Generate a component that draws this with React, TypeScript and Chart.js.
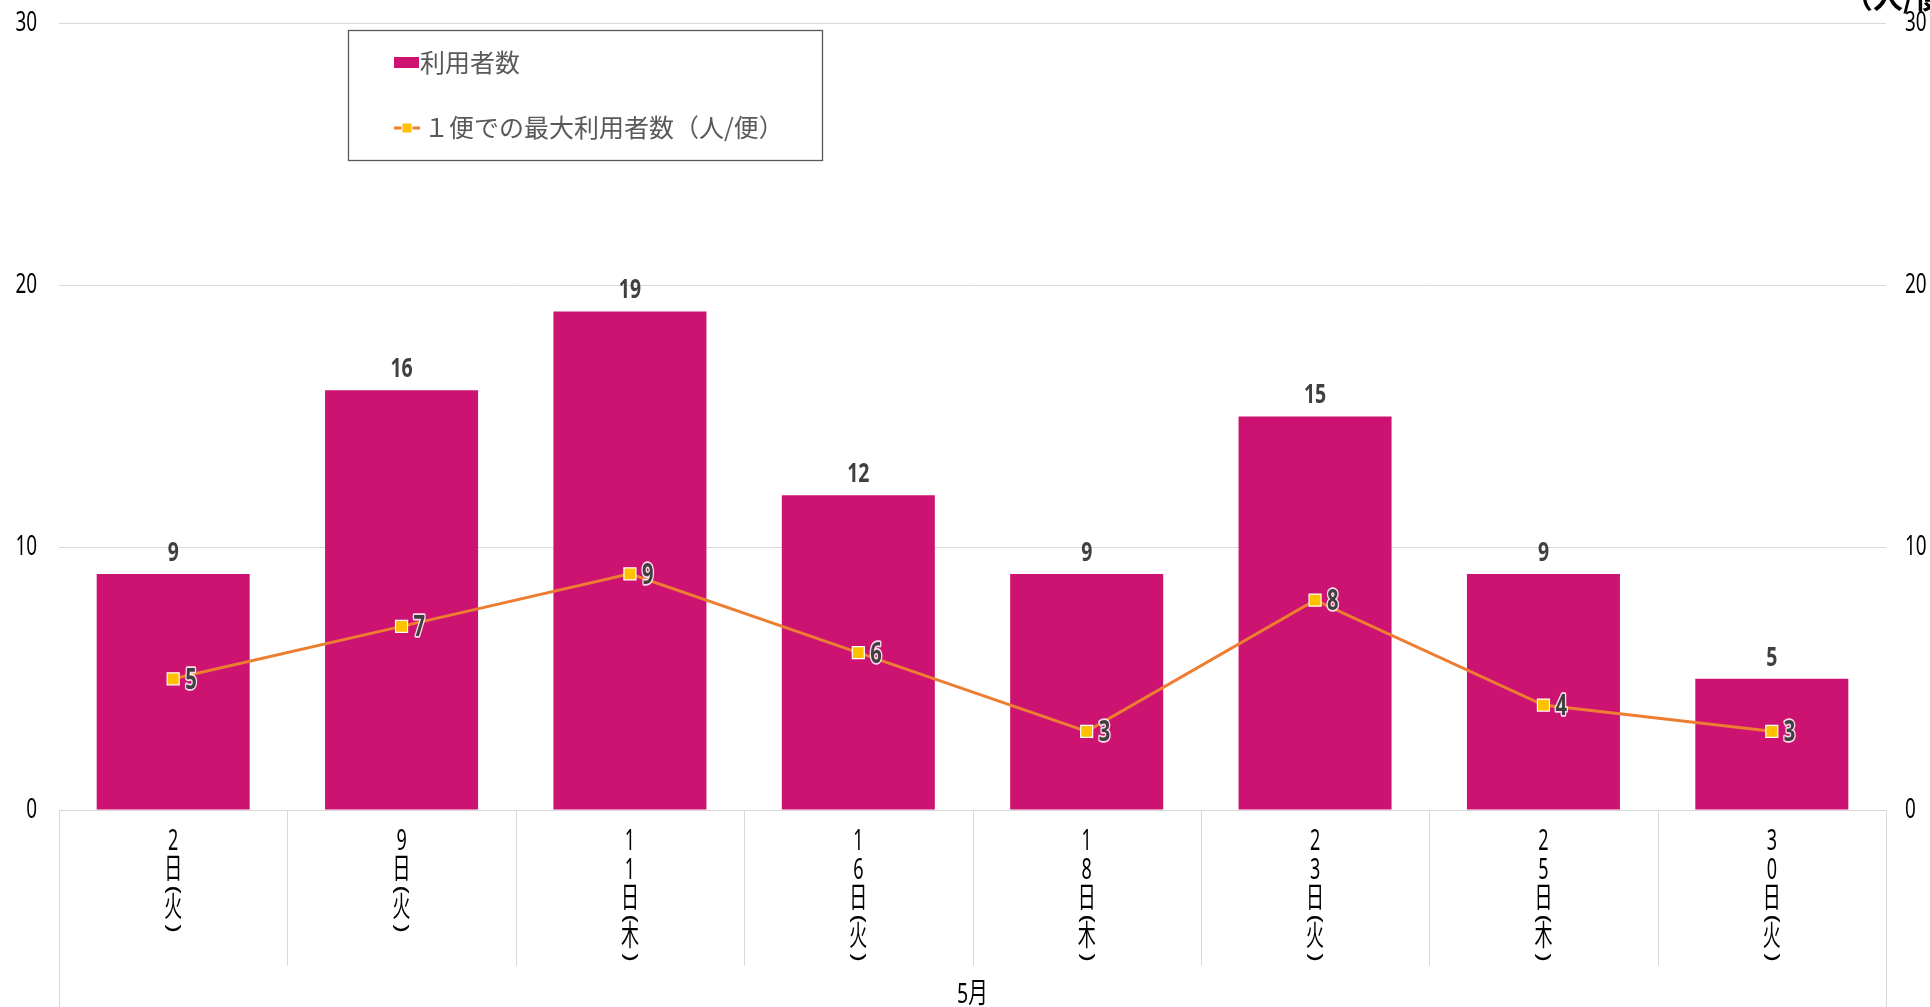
import React, { useEffect, useRef } from 'react';
import { Chart, registerables } from 'chart.js';
Chart.register(...registerables);

const dayLabels = ['2日(火)', '9日(火)', '11日(木)', '16日(火)', '18日(木)', '23日(火)', '25日(木)', '30日(火)'];
const groupLabel = '5月';
const users = [9, 16, 19, 12, 9, 15, 9, 5];
const maxPerTrip = [5, 7, 9, 6, 3, 8, 4, 3];
const seriesNames = ['利用者数', '１便での最大利用者数（人/便）'];
const yTicks = [0, 10, 20, 30];
const rightAxisTitle = '（人/便）';

const FONT = '"Noto Sans", "Noto Sans CJK JP", sans-serif';
const CJK = '"Noto Sans CJK JP", sans-serif';
const BAR_COLOR = '#CC1372';
const LINE_COLOR = '#ED7D31';
const MARKER_COLOR = '#FFC000';
const GRID = '#D9D9D9';

function txt(ctx: CanvasRenderingContext2D, s: string, x: number, y: number, align: CanvasTextAlign, sx: number) {
  ctx.save();
  ctx.translate(x, y);
  ctx.scale(sx, 1);
  ctx.textAlign = align;
  ctx.textBaseline = 'middle';
  ctx.fillText(s, 0, 0);
  ctx.restore();
}

const extrasPlugin = {
  id: 'extras',
  afterDraw(chart: any) {
    const ctx: CanvasRenderingContext2D = chart.ctx;
    const area = chart.chartArea;
    const x = chart.scales.x;
    const y = chart.scales.y;
    const n = chart.data.labels.length;
    ctx.save();

    // category separators
    ctx.strokeStyle = GRID;
    ctx.lineWidth = 1;
    for (let i = 0; i <= n; i++) {
      const px = Math.round(x.left + ((x.right - x.left) * i) / n) + 0.5;
      const bottom = i === 0 || i === n ? chart.height : 966;
      ctx.beginPath();
      ctx.moveTo(px, area.bottom);
      ctx.lineTo(px, bottom);
      ctx.stroke();
    }

    // y tick labels (left and right)
    ctx.fillStyle = '#000';
    ctx.font = `27px ${FONT}`;
    yTicks.forEach((v) => {
      const py = y.getPixelForValue(v);
      txt(ctx, String(v), 37, py, 'right', 0.7);
      txt(ctx, String(v), 1905, py, 'left', 0.7);
    });

    // vertical category labels
    ctx.font = `29px ${FONT}`;
    ctx.fillStyle = '#000';
    (chart.data.labels as string[]).forEach((label, i) => {
      const cx = x.getPixelForValue(i);
      let yy = 827.5;
      Array.from(label).forEach((c) => {
        const isParen = c === '(' || c === ')';
        const h = isParen ? 9 : 29;
        const cy = yy + h / 2;
        if (isParen) {
          ctx.save();
          ctx.translate(cx, cy);
          ctx.scale(0.62, 1);
          ctx.rotate(Math.PI / 2);
          ctx.textAlign = 'center';
          ctx.textBaseline = 'middle';
          ctx.fillText(c, 0, 0);
          ctx.restore();
        } else {
          txt(ctx, c, cx, cy, 'center', 0.62);
        }
        yy += h;
      });
    });

    // group label
    ctx.font = `28px ${FONT}`;
    txt(ctx, groupLabel, (x.left + x.right) / 2, 995, 'center', 0.7);

    // data labels
    const barMeta = chart.getDatasetMeta(0);
    ctx.font = `bold 27px ${FONT}`;
    ctx.fillStyle = '#404040';
    barMeta.data.forEach((el: any, i: number) => {
      txt(ctx, String(chart.data.datasets[0].data[i]), el.x, el.y - 21, 'center', 0.72);
    });
    const lineMeta = chart.getDatasetMeta(1);
    ctx.font = `bold 28px ${FONT}`;
    lineMeta.data.forEach((el: any, i: number) => {
      const t = String(chart.data.datasets[1].data[i]);
      ctx.save();
      ctx.translate(el.x + 12, el.y + 2);
      ctx.scale(0.72, 1);
      ctx.textAlign = 'left';
      ctx.textBaseline = 'middle';
      ctx.lineWidth = 3.5;
      ctx.lineJoin = 'round';
      ctx.strokeStyle = 'rgba(255,255,255,0.85)';
      ctx.strokeText(t, 0, 0);
      ctx.fillStyle = '#404040';
      ctx.fillText(t, 0, 0);
      ctx.restore();
    });

    // legend box
    ctx.fillStyle = '#fff';
    ctx.fillRect(348, 30, 474, 130);
    ctx.strokeStyle = '#595959';
    ctx.lineWidth = 1.3;
    ctx.strokeRect(348.5, 30.5, 474, 130);
    ctx.fillStyle = BAR_COLOR;
    ctx.fillRect(394, 57, 25, 11);
    ctx.font = `25px ${CJK}`;
    ctx.fillStyle = '#595959';
    ctx.textAlign = 'left';
    ctx.textBaseline = 'middle';
    ctx.fillText(chart.data.datasets[0].label, 420, 62);
    ctx.strokeStyle = LINE_COLOR;
    ctx.lineWidth = 3;
    ctx.beginPath();
    ctx.moveTo(394, 128);
    ctx.lineTo(420, 128);
    ctx.stroke();
    ctx.fillStyle = MARKER_COLOR;
    ctx.fillRect(402, 123, 10, 10);
    ctx.strokeStyle = '#fff';
    ctx.lineWidth = 1;
    ctx.strokeRect(402, 123, 10, 10);
    ctx.fillStyle = '#595959';
    ctx.fillText(chart.data.datasets[1].label, 424, 127);

    // right axis title (cut off at top)
    ctx.font = `bold 30px ${CJK}`;
    ctx.fillStyle = '#000';
    ctx.textAlign = 'left';
    ctx.textBaseline = 'alphabetic';
    ctx.fillText(rightAxisTitle, 1843, 8);
    ctx.restore();
  },
};

export default function App() {
  const ref = useRef<HTMLCanvasElement>(null);
  useEffect(() => {
    document.body.style.margin = '0';
    const chart = new Chart(ref.current as HTMLCanvasElement, {
      type: 'bar',
      data: {
        labels: dayLabels,
        datasets: [
          {
            type: 'bar',
            label: seriesNames[0],
            data: users,
            backgroundColor: BAR_COLOR,
            borderWidth: 0,
            categoryPercentage: 1,
            barPercentage: 0.67,
            yAxisID: 'y',
            order: 2,
          },
          {
            type: 'line',
            label: seriesNames[1],
            data: maxPerTrip,
            borderColor: LINE_COLOR,
            borderWidth: 3,
            pointStyle: 'rect',
            pointRadius: 8.5,
            pointBackgroundColor: MARKER_COLOR,
            pointBorderColor: '#fff',
            pointBorderWidth: 1.2,
            tension: 0,
            yAxisID: 'y1',
            order: 1,
          } as any,
        ],
      },
      options: {
        responsive: false,
        animation: false,
        devicePixelRatio: 1,
        layout: { padding: { top: 23, left: 0, right: 44, bottom: 0 } },
        plugins: { legend: { display: false }, tooltip: { enabled: false } },
        scales: {
          x: {
            grid: { display: false, drawTicks: false },
            border: { display: false },
            ticks: { display: false },
            afterFit: (s: any) => {
              s.height = 197;
            },
          },
          y: {
            position: 'left',
            min: yTicks[0],
            max: yTicks[yTicks.length - 1],
            ticks: { stepSize: yTicks[1] - yTicks[0], display: false },
            grid: { color: GRID, drawTicks: false, lineWidth: 1 },
            border: { display: false },
            afterFit: (s: any) => {
              s.width = 59;
            },
          },
          y1: {
            display: false,
            position: 'right',
            min: yTicks[0],
            max: yTicks[yTicks.length - 1],
          },
        },
      },
      plugins: [extrasPlugin],
    });
    return () => chart.destroy();
  }, []);
  return (
    <div style={{ width: 1930, height: 1007, position: 'relative' }}>
      <canvas ref={ref} width={1930} height={1007} style={{ display: 'block' }} />
    </div>
  );
}
